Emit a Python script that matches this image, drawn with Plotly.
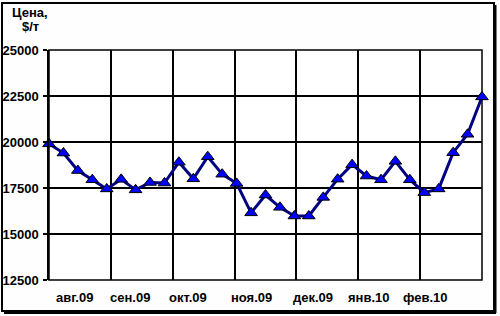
import plotly.graph_objects as go

# Weekly prices, $/t (31 observations)
prices = [19900, 19400, 18450, 17950, 17450, 17970, 17400, 17800, 17770, 18900,
          18000, 19200, 18250, 17750, 16150, 17120, 16450, 15980, 15980, 16990,
          17980, 18770, 18150, 17950, 18950, 17950, 17250, 17450, 19420, 20420,
          22450]
weeks = list(range(len(prices)))

month_labels = ["авг.09", "сен.09", "окт.09", "ноя.09", "дек.09", "янв.10", "фев.10"]
month_pos = [1.8, 5.6, 9.6, 14.0, 18.3, 22.2, 26.1]

y_ticks = [12500, 15000, 17500, 20000, 22500, 25000]
n_grid = 7
grid_x = [30 * k / n_grid for k in range(n_grid + 1)]

W, H = 500, 316
L, R, T, B = 49, 18, 50, 36
pw, ph = W - L - R, H - T - B

def px(x):
    return (x - L) / pw

def py(y):
    return (H - B - y) / ph

font = "Liberation Sans, Arial, sans-serif"
FS = 13

fig = go.Figure()
fig.add_trace(go.Scatter(
    x=weeks, y=prices, mode="lines+markers",
    line=dict(color="#000080", width=3),
    marker=dict(symbol="triangle-up", size=11, color="#0000FF",
                line=dict(color="#000000", width=1)),
    cliponaxis=False, showlegend=False,
))

annotations = []
for lab, pos in zip(month_labels, month_pos):
    annotations.append(dict(x=pos, y=py(297), xref="x", yref="paper", text=lab,
                            showarrow=False, xanchor="center", yanchor="middle",
                            font=dict(family=font, size=FS, color="#000000", weight="bold")))
annotations.append(dict(x=px(30), y=py(12.5), xref="paper", yref="paper", text="Цена,",
                        showarrow=False, xanchor="center", yanchor="middle",
                        font=dict(family=font, size=FS, color="#000000", weight="bold")))
annotations.append(dict(x=px(30), y=py(26.5), xref="paper", yref="paper", text="$/т",
                        showarrow=False, xanchor="center", yanchor="middle",
                        font=dict(family=font, size=FS, color="#000000", weight="bold")))

shapes = [
    # outer chart border with shadow
    dict(type="rect", xref="paper", yref="paper", x0=px(2), x1=px(494), y0=py(311), y1=py(3),
         line=dict(color="#000000", width=2), layer="above"),
    dict(type="line", xref="paper", yref="paper", x0=px(495), x1=px(495), y0=py(313), y1=py(5),
         line=dict(color="#000000", width=3), layer="above"),
    dict(type="line", xref="paper", yref="paper", x0=px(4), x1=px(496), y0=py(312.5), y1=py(312.5),
         line=dict(color="#000000", width=3), layer="above"),
    # plot area frame
    dict(type="rect", xref="paper", yref="paper", x0=0, x1=1, y0=0, y1=1,
         line=dict(color="#000000", width=1.5), layer="below"),
]

fig.update_layout(
    width=W, height=H,
    margin=dict(l=L, r=R, t=T, b=B, autoexpand=False),
    paper_bgcolor="#fefefe", plot_bgcolor="#ffffff",
    font=dict(family=font, size=FS, color="#000000"),
    annotations=annotations, shapes=shapes,
    xaxis=dict(range=[0, 30], tickvals=grid_x, ticktext=[""] * len(grid_x),
               showgrid=True, gridcolor="#000000", gridwidth=1.5,
               zeroline=False, showline=False, ticks="", fixedrange=True,
               automargin=False),
    yaxis=dict(range=[12500, 25000], tickvals=y_ticks, ticktext=[str(v) for v in y_ticks],
               showgrid=True, gridcolor="#000000", gridwidth=1.5,
               zeroline=False, showline=True, linecolor="#000000", linewidth=1.5,
               ticks="outside", ticklen=4, tickcolor="#000000", tickwidth=1.5,
               tickfont=dict(family=font, size=FS, color="#000000", weight="bold"),
               ticklabelstandoff=2, fixedrange=True, automargin=False),
)

fig.write_html("out.html")
